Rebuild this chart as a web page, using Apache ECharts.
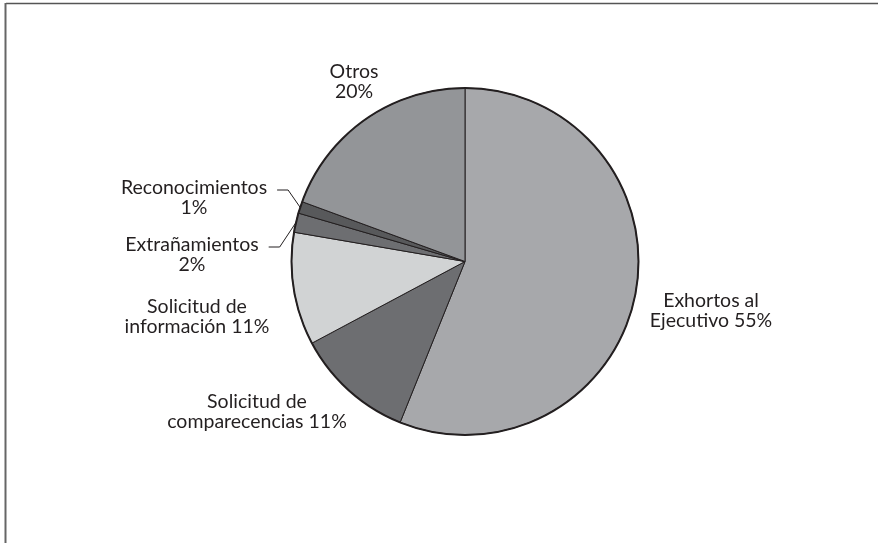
<!DOCTYPE html>
<html>
<head>
<meta charset="utf-8">
<script src="https://cdn.jsdelivr.net/npm/echarts@6/dist/echarts.min.js"></script>
<style>
    html, body { margin: 0; padding: 0; background: #fff; }
    #chart { width: 878px; height: 543px; }
</style>
</head>
<body>
<div id="chart"></div>
<script>
// slices, clockwise from 12 o'clock
var categories = ['Exhortos al\nEjecutivo', 'Solicitud de\ncomparecencias', 'Solicitud de\ninformación', 'Extrañamientos', 'Reconocimientos', 'Otros'];
// shares as measured from the slice angles
var values = [56.1, 11.1, 10.5, 1.8, 1.1, 19.4];
// percentages printed on the labels
var pctLabels = ['55%', '11%', '11%', '2%', '1%', '20%'];
var colors = ['#a7a8ab', '#6d6e71', '#d1d3d4', '#6d6e71', '#58595b', '#939598'];

// label block centres (pixels) and whether a leader line is drawn
var labelPos = [[711, 311], [257, 412], [197, 317], [192, 255], [194, 198], [354, 82]];
var withLine = [false, false, false, true, true, false];

var chartDom = document.getElementById('chart');
var myChart = echarts.init(chartDom);

var pieData = categories.map(function (name, i) {
    var sep = (i <= 2) ? ' ' : '\n';
    return {
        name: name,
        value: values[i],
        itemStyle: { color: colors[i] },
        label: { formatter: name + sep + pctLabels[i] },
        labelLine: { show: withLine[i] }
    };
});

var option = {
    animation: false,
    backgroundColor: '#fff',
    graphic: [
        { type: 'line', shape: { x1: 6, y1: 3.5, x2: 878, y2: 3.5 }, style: { stroke: '#555', lineWidth: 1.5 } },
        { type: 'line', shape: { x1: 5.5, y1: 3, x2: 5.5, y2: 543 }, style: { stroke: '#666', lineWidth: 2 } }
    ],
    series: [
        {
            type: 'pie',
            center: [465, 261.5],
            radius: [0, 173.5],
            startAngle: 90,
            clockwise: true,
            silent: true,
            data: pieData,
            itemStyle: { borderColor: '#231f20', borderWidth: 1 },
            label: {
                show: true,
                position: 'outside',
                color: '#231f20',
                fontFamily: 'Lato',
                fontSize: 19.5,
                lineHeight: 20,
                align: 'center'
            },
            labelLine: {
                lineStyle: { color: '#231f20', width: 1 }
            },
            labelLayout: function (params) {
                var i = params.dataIndex;
                var p = labelPos[i];
                var res = { x: p[0], y: p[1], align: 'center', verticalAlign: 'middle' };
                if (withLine[i] && params.labelLinePoints) {
                    var w = params.labelRect.width;
                    var lineY = p[1] - 8;
                    var endX = p[0] + w / 2 + 10;
                    var start = params.labelLinePoints[0];
                    res.labelLinePoints = [start, [endX + 11, lineY], [endX, lineY]];
                }
                return res;
            }
        },
        {
            type: 'pie',
            center: [465, 261.5],
            radius: [0, 173.5],
            silent: true,
            z: 3,
            label: { show: false },
            labelLine: { show: false },
            data: [{ value: 1, itemStyle: { color: 'rgba(0,0,0,0)', borderColor: '#231f20', borderWidth: 2 } }]
        }
    ]
};

option && myChart.setOption(option);
</script>
</body>
</html>
